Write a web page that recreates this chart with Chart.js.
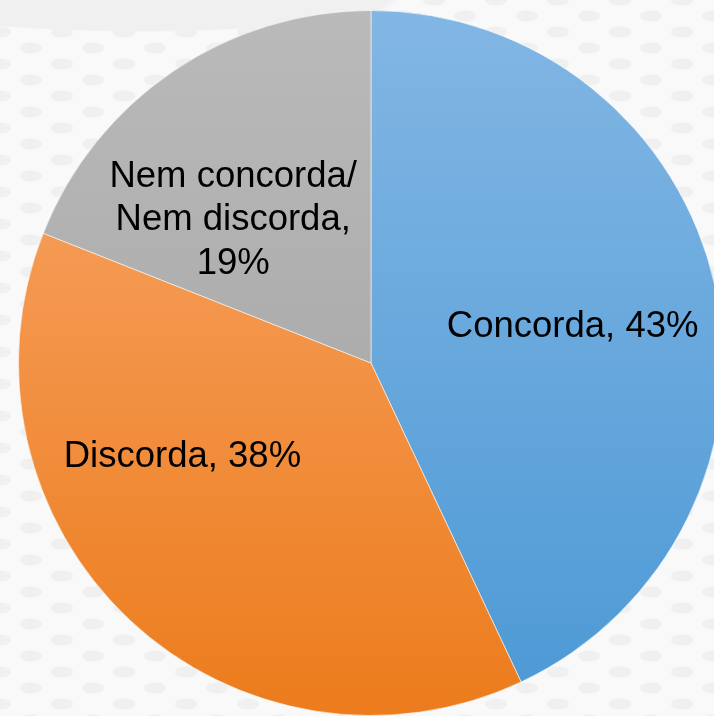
<!DOCTYPE html>
<html lang="pt">
  <head>
    <meta charset="UTF-8" />
    <title>Concorda / Discorda</title>
    <script src="https://cdn.jsdelivr.net/npm/chart.js"></script>
    <style>
      html, body {
        margin: 0;
        width: 714px;
        height: 716px;
        overflow: hidden;
      }
      body {
        background-color: #f9f9f9;
        background-image:
          radial-gradient(ellipse 260px 32px at 140px 0px, #f0f0f0 95%, transparent 100%),
          radial-gradient(ellipse 12px 6px at 50% 50%, #f0f0f0 85%, transparent 100%),
          radial-gradient(ellipse 12px 6px at 50% 50%, #f0f0f0 85%, transparent 100%);
        background-size: auto, 62px 32px, 62px 32px;
        background-position: 0 0, 0 0, 31px 16px;
        background-repeat: no-repeat, repeat, repeat;
      }
      #wrap {
        position: absolute;
        left: 0;
        top: 0;
        width: 742px;
        height: 726px;
      }
    </style>
  </head>
  <body>
    <div id="wrap"><canvas id="pieChart"></canvas></div>

    <script>
      const categories = ["Concorda", "Discorda", "Nem concorda/ Nem discorda"];
      const values = [43, 38, 19];

      // top / bottom colour of the vertical gradient for each slice
      const topColors = ["#82b6e4", "#f9a86e", "#bababa"];
      const bottomColors = ["#4c99d5", "#ec7c1c", "#9f9f9f"];

      // label centre, as a fraction of the radius from the pie centre
      const labelOffsets = [
        [0.572, -0.102],
        [-0.535, 0.266],
        [-0.391, -0.405],
      ];

      function sliceFill(ctx) {
        const chart = ctx.chart;
        const area = chart.chartArea;
        if (!area) return topColors[ctx.dataIndex];
        const g = chart.ctx.createLinearGradient(0, area.top, 0, area.bottom);
        g.addColorStop(0, topColors[ctx.dataIndex]);
        g.addColorStop(1, bottomColors[ctx.dataIndex]);
        return g;
      }

      function wrapText(c, text, maxWidth) {
        const words = text.split(" ");
        const lines = [];
        let line = "";
        words.forEach((w) => {
          const test = line ? line + " " + w : w;
          if (line && c.measureText(test).width > maxWidth) {
            lines.push(line);
            line = w;
          } else {
            line = test;
          }
        });
        if (line) lines.push(line);
        return lines;
      }

      const sliceLabels = {
        id: "sliceLabels",
        afterDatasetsDraw(chart) {
          const c = chart.ctx;
          const meta = chart.getDatasetMeta(0);
          c.save();
          c.font = '36.5px "Liberation Sans", Arial, sans-serif';
          c.fillStyle = "#000000";
          c.textAlign = "center";
          c.textBaseline = "middle";
          meta.data.forEach((arc, i) => {
            const r = arc.outerRadius;
            const cx = arc.x + labelOffsets[i][0] * r;
            const cy = arc.y + labelOffsets[i][1] * r;
            const text = categories[i] + ", " + values[i] + "%";
            const lines = wrapText(c, text, 270);
            const lh = 43.5;
            const y0 = cy - ((lines.length - 1) * lh) / 2;
            lines.forEach((l, k) => c.fillText(l, cx, y0 + k * lh));
          });
          c.restore();
        },
      };

      const pieCtx = document.getElementById("pieChart").getContext("2d");
      const pieChart = new Chart(pieCtx, {
        type: "pie",
        data: {
          labels: categories,
          datasets: [
            {
              data: values,
              backgroundColor: sliceFill,
              borderColor: "rgba(255,255,255,0.55)",
              borderWidth: 1,
            },
          ],
        },
        options: {
          responsive: true,
          maintainAspectRatio: false,
          animation: false,
          layout: { padding: 10 },
          plugins: {
            legend: { display: false },
            tooltip: { enabled: false },
          },
        },
        plugins: [sliceLabels],
      });
    </script>
  </body>
</html>
